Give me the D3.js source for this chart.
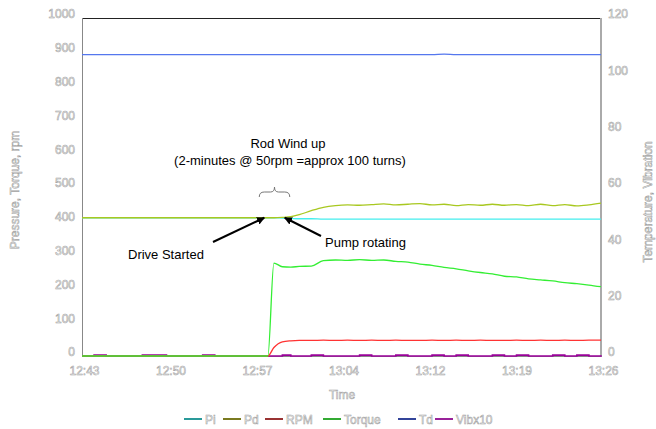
<!DOCTYPE html>
<html>
<head>
<meta charset="utf-8">
<script src="https://cdn.jsdelivr.net/npm/d3@7"></script>
<style>
  html, body { margin: 0; padding: 0; background: #fff; }
  svg { display: block; font-family: Arial, "Liberation Sans", sans-serif; }
  .ol { fill: #fff; stroke: #a0a0a0; stroke-width: 0.55px; font-size: 12px; }
  .note { fill: #000; font-size: 13px; }
</style>
</head>
<body>
<svg id="chart" width="656" height="429"></svg>
<script>
// Minutes elapsed since 12:43
const minutes = [0,1,2,3,4,5,6,7,8,9,10,11,12,13,14,15,15.4,15.9,16.6,17.3,
  18,19,20,21,22,23,24,25,26,27,28,29,30,31,32,33,34,35,36,37,38,39,40,41,42,43];

// Left axis series (pressure psi, rpm, torque)
const pi = [409,409,409,409,409,409,409,409,409,409,409,409,409,409,409,409,409,409,408,407,
  406,406,405,405,405,405,405,405,405,405,405,405,405,405,405,405,405,405,405,405,405,405,405,405,405,405];
const pd = [409,409,409,409,409,409,409,409,409,409,409,409,409,409,409,409,409,409,410,412,
  418,430,440,445,447,446,448,450,447,449,451,447,449,445,448,446,449,446,448,445,449,445,448,444,447,452];
const rpm = [0,0,0,0,0,0,0,0,0,0,0,0,0,0,0,0,0,25,42,45,
  46,46,47,46,47,46,47,46,47,46,46,47,46,47,46,47,46,46,47,46,47,46,47,46,47,47];
const torque = [0,0,0,0,0,0,0,0,0,0,0,0,0,0,0,0,0,275,264,263,
  265,266,282,284,283,285,283,284,280,278,272,268,262,258,252,247,243,236,234,228,225,222,217,214,210,205];

// Right axis series (temperature, vibration x10)
const td = [107,107,107,107,107,107,107,107,107,107,107,107,107,107,107,107,107,107,107,107,
  107,107,107,107,107,107,107,107,107,107,107,107,107.15,107,107,107,107,107,107,107,107,107,107,107,107,107];
const vib = [0,0.3,0,0,0,0.3,0.3,0,0,0,0.3,0,0,0,0,0,0,0,0.3,0,
  0,0.3,0,0,0,0.3,0,0,0.3,0,0,0.3,0,0.3,0,0,0.3,0,0.3,0,0,0.3,0,0.3,0,0.3];

const leftTicks = [0,100,200,300,400,500,600,700,800,900,1000];
const rightTicks = [0,20,40,60,80,100,120];
const timeLabels = ["12:43","12:50","12:57","13:04","13:12","13:19","13:26"];

const legendNames = ["Pi","Pd","RPM","Torque","Td","Vibx10"];
const lineColors = ["#44eeee","#a8c820","#ff3333","#33ee33","#5577ee","#990099"];
const swatchColors = ["#2a9a9a","#7a7a20","#993333","#33aa33","#334499","#992299"];

// Drive start / pump rotating moments (minutes) at the 409 psi baseline
const driveStart = 15.1;
const pumpRotating = 16.8;
const baseline = 409;

const svg = d3.select("#chart");
const x = d3.scaleLinear().domain([0, 43]).range([82, 601]);
const yL = d3.scaleLinear().domain([0, 1000]).range([356, 18]);
const yR = d3.scaleLinear().domain([0, 120]).range([356, 18]);

// Axes (labels only)
const gl = svg.append("g").attr("transform", "translate(82,-4)")
  .call(d3.axisLeft(yL).tickValues(leftTicks).tickFormat(d3.format("d")).tickSize(0).tickPadding(7));
const gr = svg.append("g").attr("transform", "translate(601,-4)")
  .call(d3.axisRight(yR).tickValues(rightTicks).tickFormat(d3.format("d")).tickSize(0).tickPadding(7));
const gx = svg.append("g").attr("transform", "translate(2,356)")
  .call(d3.axisBottom(x).tickValues(d3.range(7).map(i => i * 43 / 6))
    .tickFormat((d, i) => timeLabels[i]).tickSize(0).tickPadding(10));
[gl, gr, gx].forEach(g => {
  g.select(".domain").remove();
  g.selectAll("text").attr("class", "ol").attr("font-family", null).attr("font-size", null);
});

// Plot frame
svg.append("line").attr("x1", 82).attr("x2", 601).attr("y1", 18.5).attr("y2", 18.5)
  .attr("stroke", "#222").attr("stroke-width", 1);
svg.append("line").attr("x1", 82.5).attr("x2", 82.5).attr("y1", 18).attr("y2", 357)
  .attr("stroke", "#888").attr("stroke-width", 1);
svg.append("line").attr("x1", 601).attr("x2", 601).attr("y1", 18).attr("y2", 357)
  .attr("stroke", "#aaa").attr("stroke-width", 2);
svg.append("line").attr("x1", 82).attr("x2", 601).attr("y1", 356.5).attr("y2", 356.5)
  .attr("stroke", "#888").attr("stroke-width", 1);

// Axis titles
svg.append("text").attr("class", "ol").attr("text-anchor", "middle")
  .attr("transform", "translate(19,190) rotate(-90)").text("Pressure, Torque, rpm");
svg.append("text").attr("class", "ol").attr("text-anchor", "middle")
  .attr("transform", "translate(652,202) rotate(-90)").text("Temperature, Vibration");
svg.append("text").attr("class", "ol").attr("text-anchor", "middle")
  .attr("x", 342).attr("y", 399).text("Time");

// Series lines
const series = [
  { vals: pi, y: yL }, { vals: pd, y: yL }, { vals: rpm, y: yL },
  { vals: torque, y: yL }, { vals: td, y: yR }, { vals: vib, y: yR }
];
const drawOrder = [5, 4, 0, 1, 2, 3];
drawOrder.forEach(i => {
  const s = series[i];
  const line = d3.line().x((d, j) => x(minutes[j])).y(d => s.y(d))
    .curve(i === 5 ? d3.curveStepAfter : d3.curveMonotoneX);
  svg.append("path").datum(s.vals).attr("d", line)
    .attr("fill", "none").attr("stroke", lineColors[i])
    .attr("stroke-width", i === 5 ? 1.6 : 1.3);
});

// Annotations
const defs = svg.append("defs");
defs.append("marker").attr("id", "arrow").attr("viewBox", "0 0 10 10")
  .attr("refX", 9).attr("refY", 5).attr("markerWidth", 4).attr("markerHeight", 4)
  .attr("orient", "auto")
  .append("path").attr("d", "M0,0 L10,5 L0,10 z").attr("fill", "#000");

const bx0 = x(driveStart) - 5, bx1 = x(pumpRotating) + 5, bm = (bx0 + bx1) / 2;
svg.append("path")
  .attr("d", `M${bx0},197 Q${bx0},192 ${bx0 + 5},192 L${bm - 4},192 Q${bm},192 ${bm},187 ` +
             `Q${bm},192 ${bm + 4},192 L${bx1 - 5},192 Q${bx1},192 ${bx1},197`)
  .attr("fill", "none").attr("stroke", "#777").attr("stroke-width", 1);

svg.append("text").attr("class", "note").attr("text-anchor", "middle")
  .attr("x", 288).attr("y", 148).text("Rod Wind up");
svg.append("text").attr("class", "note").attr("text-anchor", "middle")
  .attr("x", 290).attr("y", 165).text("(2-minutes @ 50rpm =approx 100 turns)");

svg.append("line").attr("x1", 213).attr("y1", 242)
  .attr("x2", x(driveStart)).attr("y2", yL(baseline))
  .attr("stroke", "#000").attr("stroke-width", 2).attr("marker-end", "url(#arrow)");
svg.append("line").attr("x1", 321).attr("y1", 236)
  .attr("x2", x(pumpRotating)).attr("y2", yL(baseline))
  .attr("stroke", "#000").attr("stroke-width", 2).attr("marker-end", "url(#arrow)");

svg.append("text").attr("class", "note").attr("x", 128).attr("y", 259).text("Drive Started");
svg.append("text").attr("class", "note").attr("x", 325).attr("y", 247).text("Pump rotating");

// Legend
const legendX = [184, 223, 265, 323, 398, 435];
legendNames.forEach((n, i) => {
  const g = svg.append("g").attr("transform", `translate(${legendX[i]},419)`);
  g.append("line").attr("x1", 0).attr("x2", 18).attr("stroke", swatchColors[i]).attr("stroke-width", 2);
  g.append("text").attr("class", "ol").attr("x", 21).attr("y", 4.5).text(n);
});
</script>
</body>
</html>
